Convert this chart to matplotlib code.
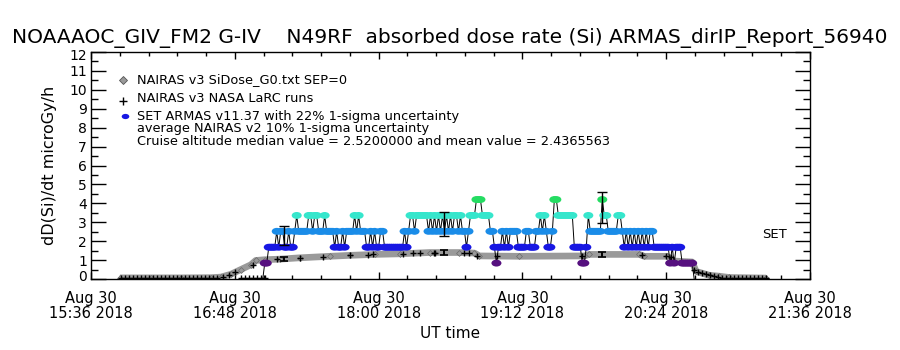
import numpy as np
import matplotlib
matplotlib.use("Agg")
import matplotlib.pyplot as plt
from matplotlib.path import Path
from matplotlib.transforms import Affine2D, ScaledTranslation

plt.rcParams['font.family'] = ['DejaVu Sans']

# ---------------- data ----------------
title = "NOAAAOC_GIV_FM2 G-IV    N49RF  absorbed dose rate (Si) ARMAS_dirIP_Report_56940"
# time axis: minutes after Aug 30 2018 15:36 UT
xtick_minutes = [0, 72, 144, 216, 288, 360]
xtick_labels = ["Aug 30\n15:36 2018", "Aug 30\n16:48 2018", "Aug 30\n18:00 2018",
                "Aug 30\n19:12 2018", "Aug 30\n20:24 2018", "Aug 30\n21:36 2018"]

# NAIRAS v3 SiDose_G0 model along flight path
nairas_t = [14.5, 30, 45, 60, 65, 70, 75, 80, 82.5, 87, 94.5, 104.5, 119.5, 129.5, 142,
            154.5, 169.5, 184.5, 192, 194.5, 214.5, 247, 249.5, 274.5, 277, 288.5, 292,
            301, 303, 309.5, 314.5, 319.5, 338]
nairas_v = [0.06, 0.06, 0.06, 0.07, 0.1, 0.25, 0.5, 0.75, 0.98, 1.02, 1.05, 1.12, 1.2, 1.25, 1.3,
            1.33, 1.4, 1.4, 1.37, 1.22, 1.2, 1.22, 1.3, 1.3, 1.2, 1.2, 0.95,
            0.9, 0.4, 0.2, 0.15, 0.08, 0.05]

# NAIRAS v3 NASA LaRC runs
larc_t = [15, 17, 19, 21, 23, 25, 27, 29, 31, 33, 35, 37, 39, 41, 43, 45, 47, 49, 51, 53,
          55, 57, 59, 61, 63, 66, 69, 72, 75, 77, 79, 81, 83, 85, 87,
          81, 93, 104.5, 116, 129.5, 138.5, 141, 156, 161, 164.5, 171.5, 172, 187, 189.5,
          193.5, 203.5, 246, 276, 288, 290.5,
          302, 304, 306, 308, 310, 312, 314, 316, 318, 320, 322, 324, 326, 328, 330, 332,
          334, 336, 338]
larc_v = [0.03, 0.03, 0.03, 0.03, 0.03, 0.03, 0.03, 0.03, 0.03, 0.03, 0.03, 0.03, 0.03, 0.03,
          0.03, 0.03, 0.03, 0.03, 0.03, 0.03, 0.03, 0.03, 0.03, 0.03, 0.05, 0.1, 0.2, 0.35,
          0.03, 0.03, 0.03, 0.03, 0.03, 0.03, 0.03,
          0.75, 1.05, 1.12, 1.18, 1.25, 1.28, 1.3, 1.33, 1.35, 1.37, 1.4, 1.4, 1.4, 1.38,
          1.22, 1.2, 1.22, 1.25, 1.2, 1.15,
          0.5, 0.35, 0.3, 0.25, 0.2, 0.15, 0.1, 0.05, 0.03, 0.03, 0.03, 0.03, 0.03, 0.03,
          0.03, 0.03, 0.03, 0.03, 0.03]

# SET ARMAS v11.37 measurements, 1-minute cadence, quantised level codes
armas_start = 86.0
armas_step = 1.0
armas_levels = [0.0, 0.84, 1.68, 2.52, 3.36, 4.2]
armas_codes = [0, 1, 1, 2, 2, 2, 2, 3, 2, 3, 3, 2, 2, 3, 2, 2, 3, 4, 3, 3,
               3, 3, 3, 4, 4, 3, 4, 4, 3, 3, 3, 4, 3, 3, 3, 3, 2, 3, 2, 2,
               3, 2, 3, 3, 3, 3, 4, 3, 4, 3, 3, 3, 2, 2, 3, 2, 3, 2, 2, 3,
               3, 2, 2, 2, 2, 2, 2, 2, 2, 2, 2, 3, 2, 3, 4, 4, 3, 4, 4, 4,
               4, 4, 4, 3, 4, 3, 4, 3, 4, 3, 4, 3, 4, 3, 4, 3, 4, 4, 3, 4,
               3, 3, 2, 3, 4, 4, 4, 5, 5, 5, 4, 4, 4, 4, 3, 3, 2, 1, 2, 2,
               3, 2, 3, 2, 3, 3, 3, 3, 2, 2, 2, 2, 3, 3, 2, 2, 2, 3, 3, 4,
               3, 4, 3, 2, 2, 3, 5, 5, 4, 4, 4, 4, 4, 4, 4, 4, 2, 2, 2, 2,
               1, 1, 2, 4, 3, 3, 3, 3, 3, 3, 5, 4, 4, 3, 3, 3, 3, 3, 4, 4,
               3, 2, 3, 2, 3, 2, 3, 2, 3, 2, 3, 2, 3, 2, 3, 3, 2, 2, 2, 2,
               2, 2, 2, 2, 1, 2, 1, 2, 2, 2, 1, 1, 1, 1, 1, 1, 0]
level_colors = ['#000000', '#56107f', '#1717e3', '#1a8ce8', '#36e6cc', '#25dc62']

# 1-sigma uncertainty bars
err_t = [96.5, 176.5, 256]
armas_err_v = [2.3, 2.9, 3.78]
armas_err_frac = 0.22
larc_err_v = [1.08, 1.40, 1.30]
larc_err_frac = 0.10

legend_labels = ["NAIRAS v3 SiDose_G0.txt SEP=0", "NAIRAS v3 NASA LaRC runs",
                 "SET ARMAS v11.37 with 22% 1-sigma uncertainty"]
note1 = "average NAIRAS v2 10% 1-sigma uncertainty"
note2 = "Cruise altitude median value = 2.5200000 and mean value = 2.4365563"

# ---------------- figure ----------------
fig = plt.figure(figsize=(9, 3.5), dpi=100)
ax = fig.add_axes([91/900, 1-279/350, (810-91)/900, (279-52)/350])
ax.set_xlim(0, 360)
ax.set_ylim(0, 12)

ellipse = Path.unit_circle().transformed(Affine2D().scale(1.45, 1.0))

# NAIRAS model band
ax.plot(nairas_t, nairas_v, color='#9a9a9a', lw=4.8, solid_capstyle='butt', zorder=2)
ax.plot(nairas_t, nairas_v, ls='none', marker='D', ms=3, mfc='#9a9a9a', mec='#6a6a6a',
        mew=0.5, zorder=2)

# LaRC runs
ax.plot(larc_t, larc_v, ls='none', marker='+', ms=4.5, color='black', mew=1.0, zorder=3)

# ARMAS
armas_t = [armas_start + armas_step * i for i in range(len(armas_codes))]
armas_v = [armas_levels[c] for c in armas_codes]
ax.plot(armas_t, armas_v, color='black', lw=0.7, zorder=4)
cols = [level_colors[c] for c in armas_codes]
mask = [c > 0 for c in armas_codes]
ax.scatter([t for t, m in zip(armas_t, mask) if m], [v for v, m in zip(armas_v, mask) if m],
           c=[c for c, m in zip(cols, mask) if m], marker=ellipse, s=52, linewidths=0,
           zorder=5)

# uncertainty bars
ax.errorbar(err_t, armas_err_v, yerr=[v * armas_err_frac for v in armas_err_v],
            fmt='none', ecolor='black', elinewidth=1.0, capsize=3.5, capthick=1.0, zorder=6)
ax.errorbar(err_t, larc_err_v, yerr=[v * larc_err_frac for v in larc_err_v],
            fmt='none', ecolor='black', elinewidth=1.4, capsize=2.6, capthick=1.2, zorder=6)

# axes styling
ax.set_xticks(xtick_minutes)
ax.set_xticks(np.arange(0, 360.1, 14.4), minor=True)
ax.set_xticklabels(xtick_labels, fontsize=10.5, linespacing=0.95)
ax.set_yticks(range(0, 13))
ax.set_yticks(np.arange(0.5, 12, 1.0), minor=True)
ax.set_yticklabels([str(i) for i in range(13)], fontsize=10)
ax.tick_params(axis='x', which='major', direction='in', length=5, width=1, top=True,
               bottom=True, pad=9)
ax.tick_params(axis='x', which='minor', direction='in', length=3, width=1, top=True,
               bottom=True)
ax.tick_params(axis='y', which='major', direction='in', length=10.5, width=1, left=True,
               right=True, pad=3)
ax.tick_params(axis='y', which='minor', direction='in', length=5, width=1, left=True,
               right=True)
for sp in ax.spines.values():
    sp.set_linewidth(1.0)

ylabs = ax.get_yticklabels()
ylabs[0].set_transform(ylabs[0].get_transform() + ScaledTranslation(0, 2.5/72, fig.dpi_scale_trans))
ylabs[-1].set_transform(ylabs[-1].get_transform() + ScaledTranslation(0, -2/72, fig.dpi_scale_trans))

ax.set_ylabel("dD(Si)/dt microGy/h", fontsize=11.5, labelpad=9)
ax.set_xlabel("UT time", fontsize=11, labelpad=4)
fig.text(0.5, 1-38/350, title, ha='center', va='center', fontsize=14.5)

# legend (manual, IDL style)
leg_y = [0.877, 0.793, 0.718]
ax.plot([0.045], [leg_y[0]], transform=ax.transAxes, marker='D', ms=4, mfc='#9a9a9a',
        mec='#555555', mew=0.6, ls='none', clip_on=False)
ax.plot([0.045], [leg_y[1] - 0.01], transform=ax.transAxes, marker='+', ms=6, color='black',
        mew=1.0, ls='none', clip_on=False)
ax.scatter([0.047], [leg_y[2]], transform=ax.transAxes, marker=ellipse, s=30, c='#1717e3',
           linewidths=0, clip_on=False)
for yy, lab in zip(leg_y, legend_labels):
    ax.text(0.064, yy, lab, transform=ax.transAxes, fontsize=9.3, va='center', ha='left')
ax.text(0.064, 0.661, note1, transform=ax.transAxes, fontsize=9.3, va='center', ha='left')
ax.text(0.064, 0.604, note2, transform=ax.transAxes, fontsize=9.3, va='center', ha='left')
ax.text(0.95, 0.194, "SET", transform=ax.transAxes, fontsize=9.5, va='center', ha='center')

fig.savefig("out.png", dpi=100)
